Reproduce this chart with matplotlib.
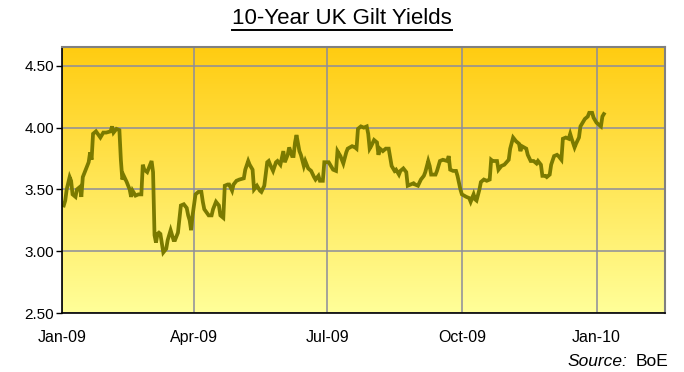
import numpy as np
import pandas as pd
import matplotlib
matplotlib.use("Agg")
import matplotlib.pyplot as plt
from matplotlib.colors import LinearSegmentedColormap

plt.rcParams['font.family'] = ['Liberation Sans', 'DejaVu Sans']

# days after 1 Jan 2009
days = [1, 2, 3, 5, 6, 7, 9, 10, 12, 13, 14, 16, 18, 19, 20, 21, 23, 26, 28, 30,
        33, 34, 35, 37, 39, 40, 41, 42, 44, 46, 47, 48, 50, 52, 54, 55, 56, 58, 60, 61,
        62, 63, 64, 65, 66, 67, 69, 71, 72, 74, 76, 77, 79, 81, 83, 85, 86, 87, 88, 89,
        91, 93, 95, 96, 97, 100, 102, 103, 105, 107, 108, 110, 111, 113, 114, 116, 117, 119, 121, 124,
        125, 127, 128, 130, 131, 133, 135, 136, 138, 140, 141, 142, 144, 146, 147, 149, 151, 152, 154, 155,
        157, 158, 159, 160, 162, 163, 165, 166, 168, 170, 172, 173, 175, 176, 178, 179, 182, 183, 185, 187,
        188, 190, 192, 194, 195, 198, 200, 201, 202, 204, 206, 208, 209, 210, 211, 213, 215, 216, 217, 219,
        221, 223, 224, 225, 227, 228, 230, 231, 233, 235, 236, 238, 240, 241, 243, 245, 247, 248, 250, 251,
        252, 255, 256, 258, 260, 263, 264, 265, 267, 269, 270, 272, 273, 276, 278, 279, 281, 282, 283, 285,
        286, 288, 290, 292, 293, 294, 297, 298, 300, 302, 305, 306, 308, 310, 312, 313, 314, 317, 318, 320,
        322, 324, 325, 327, 328, 330, 331, 333, 334, 336, 338, 339, 341, 342, 344, 346, 347, 348, 350, 351,
        353, 354, 356, 357, 359, 360, 362, 363, 365, 367, 368, 369, 370]

yields = [3.37, 3.41, 3.50, 3.60, 3.57, 3.46, 3.44, 3.50, 3.52, 3.44, 3.60, 3.66, 3.72, 3.80, 3.74, 3.95, 3.97, 3.92, 3.96, 3.96,
          3.97, 4.01, 3.96, 3.99, 3.98, 3.74, 3.58, 3.61, 3.56, 3.50, 3.44, 3.49, 3.45, 3.46, 3.46, 3.70, 3.66, 3.64, 3.70, 3.73,
          3.64, 3.13, 3.07, 3.14, 3.15, 3.14, 2.99, 3.02, 3.09, 3.17, 3.09, 3.09, 3.15, 3.37, 3.38, 3.35, 3.29, 3.25, 3.17, 3.29,
          3.46, 3.48, 3.48, 3.40, 3.34, 3.29, 3.29, 3.34, 3.40, 3.37, 3.29, 3.27, 3.53, 3.54, 3.54, 3.49, 3.54, 3.57, 3.58, 3.59,
          3.66, 3.73, 3.70, 3.66, 3.50, 3.53, 3.49, 3.48, 3.53, 3.72, 3.73, 3.70, 3.65, 3.72, 3.73, 3.70, 3.81, 3.72, 3.78, 3.84,
          3.77, 3.77, 3.88, 3.94, 3.81, 3.78, 3.69, 3.73, 3.67, 3.65, 3.60, 3.58, 3.61, 3.57, 3.57, 3.72, 3.72, 3.70, 3.66, 3.65,
          3.81, 3.77, 3.71, 3.80, 3.83, 3.85, 3.84, 3.83, 3.99, 4.01, 4.00, 4.01, 3.95, 3.83, 3.85, 3.90, 3.88, 3.78, 3.83, 3.81,
          3.83, 3.83, 3.76, 3.69, 3.65, 3.66, 3.62, 3.65, 3.67, 3.64, 3.53, 3.54, 3.55, 3.54, 3.53, 3.58, 3.61, 3.64, 3.73, 3.69,
          3.62, 3.62, 3.65, 3.73, 3.74, 3.73, 3.77, 3.66, 3.65, 3.65, 3.61, 3.50, 3.46, 3.44, 3.43, 3.40, 3.46, 3.42, 3.41, 3.50,
          3.56, 3.58, 3.57, 3.58, 3.74, 3.73, 3.73, 3.66, 3.69, 3.70, 3.74, 3.83, 3.92, 3.89, 3.87, 3.81, 3.85, 3.83, 3.78, 3.73,
          3.73, 3.71, 3.73, 3.70, 3.61, 3.61, 3.60, 3.62, 3.70, 3.77, 3.78, 3.77, 3.74, 3.91, 3.92, 3.91, 3.95, 3.91, 3.84, 3.87,
          3.92, 4.01, 4.05, 4.07, 4.09, 4.12, 4.12, 4.08, 4.04, 4.02, 4.01, 4.09, 4.11]

tick_dates = ['2009-01-01', '2009-04-01', '2009-07-01', '2009-10-01', '2010-01-01']
tick_labels = ['Jan-09', 'Apr-09', 'Jul-09', 'Oct-09', 'Jan-10']
y_ticks = [2.50, 3.00, 3.50, 4.00, 4.50]

start = pd.Timestamp('2009-01-01')
dates = start + pd.to_timedelta(days, unit='D')
xticks = pd.to_datetime(tick_dates)

fig = plt.figure(figsize=(6.84, 3.72), dpi=100)
ax = fig.add_axes([0.0911, 0.1586, 0.8816, 0.7142])

# gold-to-pale-yellow background
cmap = LinearSegmentedColormap.from_list('bg', ['#FFFF99', '#FFCC11'])
grad = np.linspace(0, 1, 256).reshape(-1, 1)
ax.imshow(grad, cmap=cmap, aspect='auto', origin='lower', extent=[0, 1, 0, 1],
          transform=ax.transAxes, zorder=0)

ax.plot(dates, yields, color='#7A7A00', lw=2.7, zorder=3, solid_joinstyle='miter')

ax.set_xlim(start, start + pd.Timedelta(days=412))
ax.set_ylim(2.5, 4.65)
ax.set_xticks(xticks)
ax.set_xticklabels(tick_labels)
ax.set_yticks(y_ticks)
ax.set_yticklabels(['%.2f' % v for v in y_ticks])

ax.grid(True, color='#8C8C9C', lw=1.1, zorder=1)
ax.set_axisbelow(False)
for ln in ax.get_xgridlines() + ax.get_ygridlines():
    ln.set_zorder(1)

ax.tick_params(axis='x', length=0, pad=12, labelsize=11.5)
ax.tick_params(axis='y', length=4, width=1, direction='out', pad=2, labelsize=11)

for s in ['left', 'bottom']:
    ax.spines[s].set_color('black')
    ax.spines[s].set_linewidth(1.2)
for s in ['top', 'right']:
    ax.spines[s].set_color('#808080')
    ax.spines[s].set_linewidth(1.5)
for sp in ax.spines.values():
    sp.set_zorder(4)

title = fig.text(0.5, 0.950, '10-Year UK Gilt Yields', ha='center', va='center', fontsize=16)
fig.canvas.draw()
bb = title.get_window_extent().transformed(fig.transFigure.inverted())
fig.add_artist(plt.Line2D([bb.x0, bb.x1], [bb.y0 - 0.003, bb.y0 - 0.003],
                          transform=fig.transFigure, color='black', lw=1.4))

src = fig.text(0.977, 0.028, 'BoE', ha='right', va='center', fontsize=12.5)
fig.canvas.draw()
sb = src.get_window_extent().transformed(fig.transFigure.inverted())
fig.text(sb.x0 - 0.012, 0.028, 'Source:', ha='right', va='center', fontsize=12.5, style='italic')

fig.savefig('out.png', dpi=100)
